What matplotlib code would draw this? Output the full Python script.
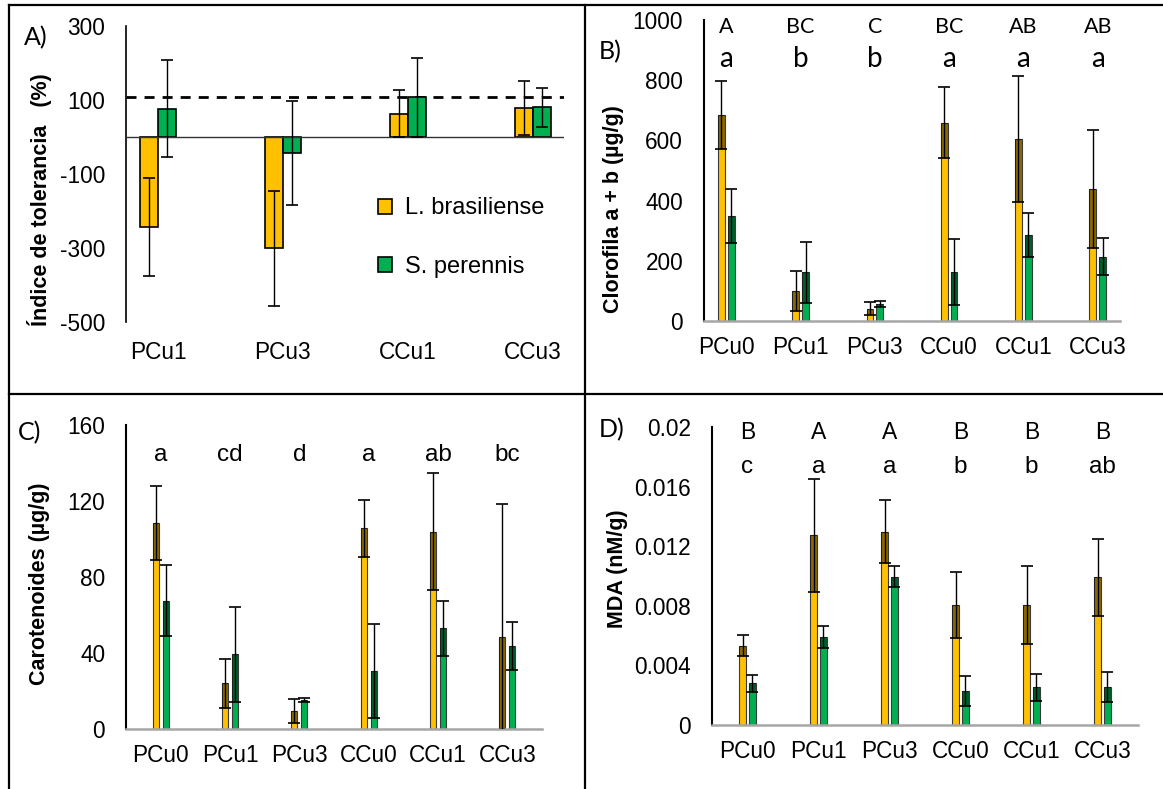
import numpy as np
import matplotlib
matplotlib.use('Agg')
import matplotlib.pyplot as plt
from matplotlib.lines import Line2D
import matplotlib.transforms as mtransforms

plt.rcParams['font.family'] = ['Liberation Sans', 'DejaVu Sans']
plt.rcParams['axes.unicode_minus'] = False

ORANGE = '#FFC000'
GREEN = '#00B050'
TICK_FS = 16.3

# --- A) tolerance index (%)
cats_a = ['PCu1', 'PCu3', 'CCu1', 'CCu3']
tol_lb = [-244, -301, 63, 78]
tol_lb_err = [133, 155, 64, 72]
tol_sp = [76, -44, 107, 80]
tol_sp_err = [131, 140, 107, 53]
tol_ref = 108

# --- B) chlorophyll a + b (ug/g)
cats = ['PCu0', 'PCu1', 'PCu3', 'CCu0', 'CCu1', 'CCu3']
chl_lb = [684, 100, 41, 658, 604, 438]
chl_lb_err = [112, 67, 21, 118, 209, 196]
chl_sp = [348, 162, 56, 163, 285, 214]
chl_sp_err = [90, 101, 10, 110, 73, 62]
chl_upper = ['A', 'BC', 'C', 'BC', 'AB', 'AB']
chl_lower = ['a', 'b', 'b', 'a', 'a', 'a']

# --- C) carotenoids (ug/g)
car_lb = [108.6, 24, 9.5, 105.6, 103.9, 48.2]
car_lb_err = [19.5, 13, 6.3, 15, 31, 70]
car_sp = [67.5, 39.3, 15.3, 30.5, 53, 43.7]
car_sp_err = [18.6, 25, 1, 24.6, 14.5, 12.5]
car_letters = ['a', 'cd', 'd', 'a', 'ab', 'bc']

# --- D) MDA (nM/g)
mda_lb = [0.00532, 0.01274, 0.01298, 0.00804, 0.00804, 0.0099]
mda_lb_err = [0.0007, 0.0038, 0.0021, 0.0022, 0.0026, 0.0026]
mda_sp = [0.00279, 0.00592, 0.00994, 0.0023, 0.00253, 0.00257]
mda_sp_err = [0.00055, 0.00073, 0.0007, 0.001, 0.0009, 0.001]
mda_upper = ['B', 'A', 'A', 'B', 'B', 'B']
mda_lower = ['c', 'a', 'a', 'b', 'b', 'ab']

W, H = 1163, 789
fig = plt.figure(figsize=(W / 100, H / 100), dpi=100)


def px_axes(x0, x1, ytop, ybot):
    return fig.add_axes([x0 / W, 1 - ybot / H, (x1 - x0) / W, (ybot - ytop) / H])


def narrow_panel(ax, lb, lb_err, sp, sp_err, width, off, xlim, ylim, ticks, ticklabels):
    x = np.arange(len(cats))
    lb = np.asarray(lb); sp = np.asarray(sp)
    lb_err = np.asarray(lb_err); sp_err = np.asarray(sp_err)
    for xs, v, e, c in ((x - off, lb, lb_err, ORANGE), (x + off, sp, sp_err, GREEN)):
        ax.bar(xs, v, width, color=c, edgecolor='#3a3a3a', lw=0.8, zorder=2)
        # the darker band where the lower error line overlays the thin bar
        low = np.maximum(v - e, 0)
        ax.bar(xs, v - low, width, bottom=low, color='black', alpha=0.45, lw=0, zorder=3)
        ax.errorbar(xs, v, yerr=e, fmt='none', ecolor='black', elinewidth=1,
                    capsize=4.3, capthick=1.2, zorder=4)
    ax.set_xlim(*xlim)
    ax.set_ylim(*ylim)
    ax.set_yticks(ticks)
    ax.set_yticklabels(ticklabels)
    ax.set_xticks(x)
    ax.set_xticklabels(cats)
    ax.tick_params(axis='y', length=0, pad=15, labelsize=TICK_FS)
    ax.tick_params(axis='x', length=0, pad=11, labelsize=TICK_FS)
    for s in ('top', 'right'):
        ax.spines[s].set_visible(False)
    ax.spines['left'].set_color('black')
    ax.spines['left'].set_linewidth(1.5)
    ax.spines['bottom'].set_color('#a6a6a6')
    ax.spines['bottom'].set_linewidth(1.8)
    ax.patch.set_alpha(0)


def letters(ax, labels, yfrac, size, family):
    tr = mtransforms.blended_transform_factory(ax.transData, ax.transAxes)
    for i, t in enumerate(labels):
        ax.text(i, yfrac, t, transform=tr, ha='center', va='center',
                fontsize=size, family=family)


# ---------- A
axA = px_axes(126, 564, 26, 322)
xa = np.arange(len(cats_a))
axA.bar(xa - 0.072, tol_lb, 0.144, color=ORANGE, edgecolor='black', lw=1.2, zorder=2,
        label='L. brasiliense')
axA.bar(xa + 0.072, tol_sp, 0.144, color=GREEN, edgecolor='black', lw=1.2, zorder=2,
        label='S. perennis')
axA.errorbar(xa - 0.072, tol_lb, yerr=tol_lb_err, fmt='none', ecolor='black',
             elinewidth=1, capsize=4.5, capthick=1.2, zorder=4)
axA.errorbar(xa + 0.072, tol_sp, yerr=tol_sp_err, fmt='none', ecolor='black',
             elinewidth=1, capsize=4.5, capthick=1.2, zorder=4)
axA.axhline(0, color='#333333', lw=1, zorder=3)
axA.axhline(tol_ref, color='black', lw=2, ls=(0, (3.6, 2.9)), zorder=1)
axA.set_xlim(-0.256, 3.25)
axA.set_ylim(-500, 300)
axA.set_yticks([-500, -300, -100, 100, 300])
axA.set_xticks(xa)
axA.set_xticklabels(cats_a)
axA.tick_params(axis='y', length=0, pad=15, labelsize=TICK_FS)
axA.tick_params(axis='x', length=0, pad=13.5, labelsize=TICK_FS)
for s in ('top', 'right', 'bottom'):
    axA.spines[s].set_visible(False)
axA.spines['left'].set_linewidth(1.2)
axA.patch.set_alpha(0)
axA.legend(loc='center left', bbox_to_anchor=(0.575, 0.285), frameon=False,
           fontsize=17, handlelength=0.6, handleheight=0.6, handletextpad=0.55,
           labelspacing=1.55, borderpad=0, borderaxespad=0)

# ---------- B
axB = px_axes(704, 1120, 20, 321)
narrow_panel(axB, chl_lb, chl_lb_err, chl_sp, chl_sp_err, 0.09, 0.067,
             (-0.3, 5.3), (0, 1000), [0, 200, 400, 600, 800, 1000],
             ['0', '200', '400', '600', '800', '1000'])
letters(axB, chl_upper, 0.977, 15.5, ['Lato', 'DejaVu Sans'])
letters(axB, chl_lower, 0.87, 20, ['Lato', 'DejaVu Sans'])

# ---------- C
axC = px_axes(126, 542, 425, 729)
narrow_panel(axC, car_lb, car_lb_err, car_sp, car_sp_err, 0.085, 0.073,
             (-0.5, 5.5), (0, 160), [0, 40, 80, 120, 160],
             ['0', '40', '80', '120', '160'])
letters(axC, car_letters, 0.9, 17.5, ['Liberation Sans', 'DejaVu Sans'])

# ---------- D
axD = px_axes(712, 1138, 427, 725)
narrow_panel(axD, mda_lb, mda_lb_err, mda_sp, mda_sp_err, 0.093, 0.068,
             (-0.5, 5.5), (0, 0.02), [0, 0.004, 0.008, 0.012, 0.016, 0.02],
             ['0', '0.004', '0.008', '0.012', '0.016', '0.02'])
letters(axD, mda_upper, 0.98, 16.5, ['Liberation Sans', 'DejaVu Sans'])
letters(axD, mda_lower, 0.866, 17.5, ['Liberation Sans', 'DejaVu Sans'])

# y labels and panel tags
fig.text(40 / W, 1 - 200 / H, 'Índice de tolerancia   (%)', rotation=90, ha='center',
         va='center', fontsize=15.5, fontweight='bold')
fig.text(613 / W, 1 - 209 / H, 'Clorofila a + b (µg/g)', rotation=90, ha='center',
         va='center', fontsize=15.5, fontweight='bold')
fig.text(39.5 / W, 1 - 584 / H, 'Carotenoides (µg/g)', rotation=90, ha='center',
         va='center', fontsize=15.5, fontweight='bold')
fig.text(618 / W, 1 - 569 / H, 'MDA (nM/g)', rotation=90, ha='center',
         va='center', fontsize=15.5, fontweight='bold')
for tag, x, y in (('A)', 24, 38), ('B)', 599, 52), ('C)', 18, 433), ('D)', 599, 430)):
    fig.text(x / W, 1 - y / H, tag, ha='left', va='center', fontsize=18,
             family=['Lato', 'DejaVu Sans'])

# table borders
for xs, ys in (([9, W], [5, 5]), ([9, 9], [5, H]), ([585, 585], [5, H]), ([9, W], [394, 394])):
    fig.add_artist(Line2D([x / W for x in xs], [1 - y / H for y in ys], color='black',
                          lw=1.6, transform=fig.transFigure))

fig.savefig('out.png', dpi=100, facecolor='white')
